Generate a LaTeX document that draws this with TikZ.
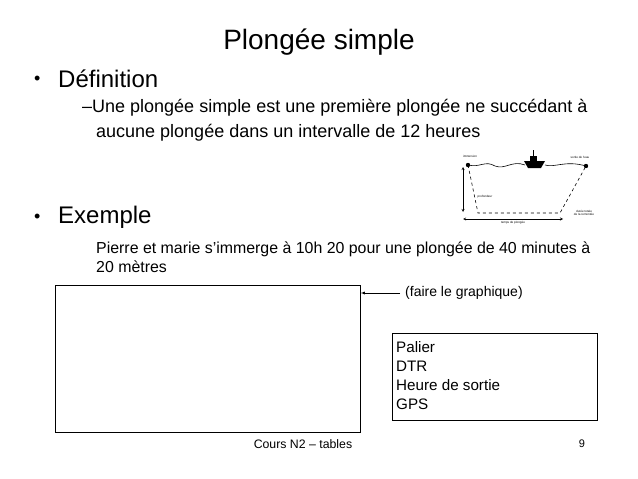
\documentclass[tikz,border=0pt]{standalone}
\usepackage{fontspec}
\setmainfont{Liberation Sans}
\begin{document}
\begin{tikzpicture}[x=1pt,y=-1pt,
  txt/.style={anchor=west,inner sep=0pt},
  tiny/.style={inner sep=0pt,font=\fontsize{3}{3.5}\selectfont,align=center}]
\useasboundingbox (0,0) rectangle (638,479);
\node[inner sep=0pt,font=\fontsize{28}{30}\selectfont] (title) at (319,42) {Plongée simple};
\node[txt,font=\fontsize{18}{22}\selectfont] (b1) at (34,80) {•};
\node[txt,font=\fontsize{24}{28}\selectfont] (b1t) at (58,79) {Définition};
\node[txt,font=\fontsize{18}{20}\selectfont] (d1) at (82,108) {–Une plongée simple est une première plongée ne succédant à};
\node[txt,font=\fontsize{18}{20}\selectfont] (d2) at (96,133) {aucune plongée dans un intervalle de 12 heures};
\node[txt,font=\fontsize{18}{22}\selectfont] (b2) at (34,218) {•};
\node[txt,font=\fontsize{24}{28}\selectfont] (b2t) at (58,217) {Exemple};
\node[txt,font=\fontsize{15.9}{19}\selectfont,align=left] (e1) at (96,257) {Pierre et marie s’immerge à 10h 20 pour une plongée de 40 minutes à\\20 mètres};
\node[draw,thick,minimum width=305pt,minimum height=147pt,anchor=north west,inner sep=0pt] (graph) at (55,285) {};
\node[txt,font=\fontsize{14}{16}\selectfont] (hint) at (405,293) {(faire le graphique)};
\draw[->,>=latex] (hint.west) ++(-5,0) -- (graph.east |- hint.west);
\node[draw,thick,anchor=north west,minimum width=205pt,minimum height=87pt,inner sep=0pt] (box) at (392,333) {};
\node[txt,font=\fontsize{15.2}{19}\selectfont,align=left,anchor=north west] (boxt) at (396,341) {Palier\\DTR\\Heure de sortie\\GPS};
\node[inner sep=0pt,font=\fontsize{12.3}{14}\selectfont] (foot) at (303,444) {Cours N2 – tables};
\node[inner sep=0pt,font=\fontsize{11}{12}\selectfont] (num) at (582,444) {9};
% small dive sketch
\coordinate (imm) at (468,165);
\coordinate (sort) at (586,166);
\coordinate (bl) at (478,213);
\coordinate (br) at (560,213);
\draw[line width=0.6pt] (imm) .. controls (480,168) and (485,160) .. (495,166) .. controls (505,170) and (512,160) .. (525,165) (545,165) .. controls (555,168) and (565,160) .. (sort);
\fill (imm) circle (2.2); \fill (sort) circle (2.2);
\fill (524,161) -- (545,161) -- (541,168) -- (528,168) -- cycle;
\fill (530,161) rectangle (537,156); \draw (533,156) -- (533,150);
\draw[dashed,line width=0.6pt] (imm) -- (bl) -- (br) -- (sort);
\draw[<->,>=stealth,line width=0.4pt] (463,167) -- (463,212);
\draw[<->,>=stealth,line width=0.4pt] (463,219) -- (563,219);
\node[tiny] (l1) at (470,156) {immersion};
\node[tiny] (l2) at (580,157) {sortie de l'eau};
\node[tiny] (l3) at (485,197) {profondeur};
\node[tiny] (l4) at (584,213) {durée totale\\de la remontée};
\node[tiny] (l5) at (513,223) {temps de plongée};
\end{tikzpicture}
\end{document}
